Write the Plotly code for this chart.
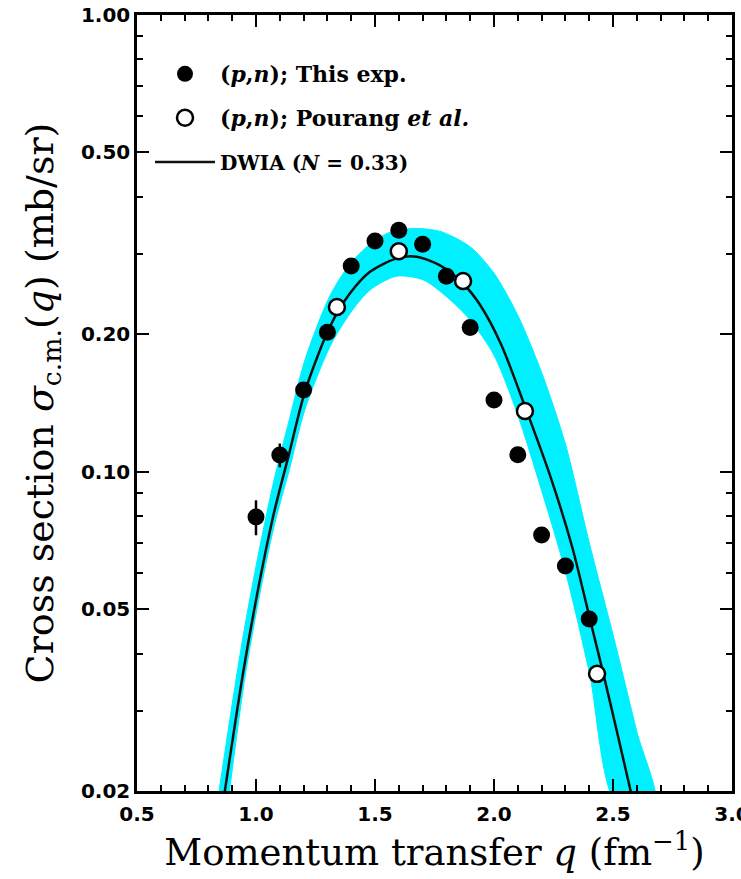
import plotly.graph_objects as go
import numpy as np

# ---------------- data ----------------
q_exp = [1.0, 1.1, 1.2, 1.3, 1.4, 1.5, 1.6, 1.7, 1.8, 1.9, 2.0, 2.1, 2.2, 2.3, 2.4]
sig_exp = [0.0796, 0.1088, 0.151, 0.202, 0.282, 0.320, 0.338, 0.315, 0.268, 0.207,
           0.1435, 0.109, 0.0727, 0.0622, 0.0476]
err_exp = [0.007, 0.0065, 0.005, 0.005, 0.005, 0.005, 0.005, 0.005, 0.005, 0.005,
           0.004, 0.003, 0.002, 0.002, 0.001]

q_pourang = [1.34, 1.60, 1.87, 2.13, 2.433]
sig_pourang = [0.2294, 0.304, 0.2616, 0.1358, 0.0361]

q_dwia = [0.86, 0.947, 1.01, 1.076, 1.14, 1.206, 1.311, 1.395, 1.479, 1.591, 1.675,
          1.773, 1.871, 1.941, 2.03, 2.13, 2.242, 2.33, 2.403, 2.459, 2.515, 2.585]
sig_dwia = [0.0186, 0.0366, 0.0557, 0.0815, 0.110, 0.150, 0.208, 0.2458, 0.274, 0.2932,
            0.2957, 0.283, 0.258, 0.232, 0.19, 0.139, 0.0959, 0.068, 0.0476, 0.0362,
            0.0272, 0.0189]

q_band_up = [0.835, 0.90, 0.947, 1.01, 1.076, 1.14, 1.206, 1.311, 1.395, 1.479, 1.56,
             1.661, 1.773, 1.899, 2.0, 2.1, 2.2, 2.3, 2.4, 2.5, 2.6, 2.675]
sig_band_up = [0.0185, 0.031, 0.044, 0.066, 0.096, 0.130, 0.176, 0.243, 0.285, 0.315, 0.334,
               0.341, 0.336, 0.311, 0.272, 0.220, 0.165, 0.115, 0.070, 0.044, 0.027, 0.0188]

q_band_lo = [0.882, 0.95, 1.01, 1.076, 1.14, 1.206, 1.311, 1.395, 1.479, 1.591, 1.703,
             1.801, 1.899, 2.0, 2.1, 2.2, 2.3, 2.4, 2.515]
sig_band_lo = [0.0188, 0.0345, 0.052, 0.076, 0.101, 0.137, 0.188, 0.222, 0.250, 0.268, 0.263,
               0.2416, 0.215, 0.180, 0.133, 0.091, 0.0605, 0.0365, 0.0188]

x_tick_vals = [0.5, 1.0, 1.5, 2.0, 2.5, 3.0]
x_tick_text = ["0.5", "1.0", "1.5", "2.0", "2.5", "3.0"]
y_tick_vals = [0.02, 0.05, 0.1, 0.2, 0.5, 1.0]
y_tick_text = ["0.02", "0.05", "0.10", "0.20", "0.50", "1.00"]
x_minor = [round(0.5 + 0.1 * i, 2) for i in range(26)]
y_minor = [0.03, 0.04, 0.06, 0.07, 0.08, 0.09, 0.3, 0.4, 0.6, 0.7, 0.8, 0.9]

# ---------------- figure ----------------
fig = go.Figure()

band_x = q_band_up + q_band_lo[::-1]
band_y = sig_band_up + sig_band_lo[::-1]
fig.add_trace(go.Scatter(x=band_x, y=band_y, mode="lines", fill="toself",
                         fillcolor="#00f0ff",
                         line=dict(color="#00f0ff", width=1, shape="spline", smoothing=0.8),
                         showlegend=False, hoverinfo="skip"))

fig.add_trace(go.Scatter(x=q_dwia, y=sig_dwia, mode="lines",
                         line=dict(color="#111111", width=2.5, shape="spline", smoothing=0.8),
                         name="DWIA (<i>N</i> = 0.33)", legend="legend3"))

fig.add_trace(go.Scatter(x=q_exp, y=sig_exp, mode="markers",
                         marker=dict(color="black", size=17, line=dict(width=0)),
                         error_y=dict(type="data", array=err_exp, color="black", thickness=2.5, width=0),
                         name="(<i>p</i>,<i>n</i>); This exp.", legend="legend"))

fig.add_trace(go.Scatter(x=q_pourang, y=sig_pourang, mode="markers",
                         marker=dict(color="white", size=16, line=dict(color="black", width=2.5)),
                         name="(<i>p</i>,<i>n</i>); Pourang <i>et al.</i>", legend="legend2"))

def legend_font(size):
    return dict(family="DejaVu Serif", size=size, color="black", weight="bold")

leg_common = dict(bgcolor="rgba(0,0,0,0)", borderwidth=0,
                  xanchor="left", yanchor="middle", itemwidth=60)
L = 137; R = 732; T = 15; B = 791
def px_to_paper(xp, yp):
    return (xp - L) / (R - L), (B - yp) / (B - T)
lx, ly1 = px_to_paper(150, 74)
_, ly2 = px_to_paper(150, 118)
_, ly3 = px_to_paper(150, 162)

axis_font = dict(family="DejaVu Sans", size=20, color="black", weight="bold")
xtitle_font = dict(family="DejaVu Serif", size=37, color="black")
ytitle_font = dict(family="DejaVu Serif", size=38, color="black")

fig.update_layout(
    width=741, height=879,
    margin=dict(l=L, r=741 - R, t=T, b=879 - B),
    paper_bgcolor="white", plot_bgcolor="white",
    legend=dict(x=lx, y=ly1, font=legend_font(22), **leg_common),
    legend2=dict(x=lx, y=ly2, font=legend_font(22), **leg_common),
    legend3=dict(x=lx, y=ly3, font=legend_font(20), **leg_common),
    xaxis=dict(range=[0.5, 3.0], tickmode="array", tickvals=x_tick_vals, ticktext=x_tick_text,
               ticks="inside", ticklen=12, tickwidth=2, tickcolor="black",
               showline=True, linewidth=2.5, linecolor="black", mirror="allticks",
               showgrid=False, zeroline=False, tickfont=axis_font, automargin=False,
               ticklabeloverflow="allow", ticklabelstandoff=3,
               minor=dict(tickmode="array", tickvals=x_minor, ticks="inside", ticklen=6,
                          tickwidth=2, tickcolor="black", showgrid=False),
               title=dict(text="Momentum transfer <i>q</i> (fm<sup>\u22121</sup>)", font=xtitle_font, standoff=12)),
    yaxis=dict(type="log", range=[np.log10(0.02), 0], tickmode="array", tickvals=y_tick_vals,
               ticktext=y_tick_text, ticks="inside", ticklen=12, tickwidth=2, tickcolor="black",
               showline=True, linewidth=2.5, linecolor="black", mirror="allticks",
               showgrid=False, zeroline=False, tickfont=axis_font, automargin=False,
               ticklabeloverflow="allow",
               minor=dict(tickmode="array", tickvals=y_minor, ticks="inside", ticklen=6,
                          tickwidth=2, tickcolor="black", showgrid=False),
               title=dict(text="Cross section <i>\u03c3</i><sub>c.m.</sub>(<i>q</i>) (mb/sr)", font=ytitle_font, standoff=16)),
)

fig.write_html("out.html", config={"displayModeBar": False},
               post_script="document.body.style.margin='0';document.body.style.overflow='hidden';")
